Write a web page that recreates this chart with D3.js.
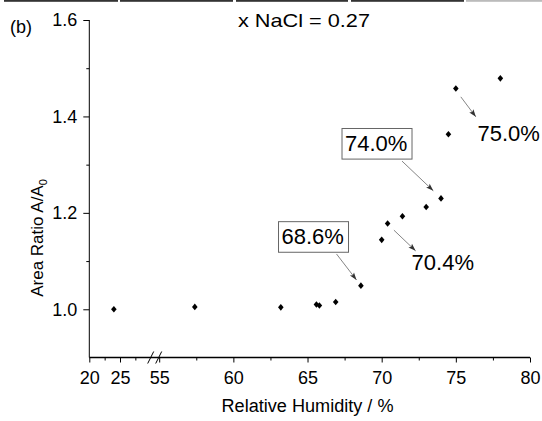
<!DOCTYPE html>
<html><head><meta charset="utf-8">
<script src="https://cdn.jsdelivr.net/npm/d3@7"></script>
<style>
html,body{margin:0;padding:0;background:#fff;}
svg{display:block;font-family:"Liberation Sans",Arial,sans-serif;}
</style></head>
<body><svg id="c" width="542" height="421"></svg>
<script>
// ---- data ----
const rh    = [24.0, 57.4, 63.2, 65.6, 65.8, 66.9, 68.6, 70.0, 70.4, 71.4, 73.0, 74.0, 74.5, 75.0, 78.0];
const ratio = [1.000, 1.005, 1.004, 1.010, 1.008, 1.015, 1.049, 1.144, 1.178, 1.193, 1.212, 1.230, 1.363, 1.458, 1.479];
const yTicks = [1.0, 1.2, 1.4, 1.6];
const yMinor = [1.1, 1.3, 1.5];
const xTicksLeft = [20, 25];
const xMinorLeft = [22.5, 27.5];
const xTicksRight = [55, 60, 65, 70, 75, 80];
const xMinorRight = [57.5, 62.5, 67.5, 72.5, 77.5];
const annLabels = ["68.6%", "70.4%", "74.0%", "75.0%"];
const annRH = [68.6, 70.4, 74.0, 75.0];
const annBoxed = [true, false, true, false];
const title = "x NaCl = 0.27";
const panel = "(b)";
const xTitle = "Relative Humidity / %";

// ---- layout ----
const svg = d3.select("#c");
const y = d3.scaleLinear().domain([0.9, 1.6]).range([357.5, 20]);
const xL = d3.scaleLinear().domain([20, 25]).range([89.3, 120]);
const xR = d3.scaleLinear().domain([55, 80]).range([159.2, 530]);
const x = v => v < 40 ? xL(v) : xR(v);
const x0 = xL(20), y0 = y(0.9);

// top border fragments (page decoration)
const topSegs = [[4,118,"#333"],[120,233,"#333"],[236,348,"#333"],[351,464,"#333"],[466,542,"#bbb"]];
svg.selectAll("rect.top").data(topSegs).enter().append("rect")
  .attr("x", d => d[0]).attr("y", 0).attr("width", d => d[1]-d[0]).attr("height", 1.8)
  .attr("fill", d => d[2]);

// y axis
const gy = svg.append("g").attr("transform", `translate(${x0},0)`);
gy.call(d3.axisLeft(y).tickValues(yTicks).tickFormat(d3.format(".1f")).tickSize(6).tickPadding(6).tickSizeOuter(0));
gy.select(".domain").remove();
gy.append("g").call(d3.axisLeft(y).tickValues(yMinor).tickFormat("").tickSize(3)).select(".domain").remove();
gy.selectAll("text").attr("font-size", 18).attr("fill", "#000").attr("font-family", "Liberation Sans, Arial");
gy.selectAll("line").attr("stroke", "#000");
svg.append("line").attr("x1", x0).attr("x2", x0).attr("y1", y(1.6)).attr("y2", y0).attr("stroke", "#000");

// x axis (broken)
function xAxisPart(scale, major, minor) {
  const g = svg.append("g").attr("transform", `translate(0,${y0})`);
  g.call(d3.axisBottom(scale).tickValues(major).tickFormat(d3.format("d")).tickSize(5).tickPadding(9).tickSizeOuter(0));
  g.select(".domain").remove();
  g.append("g").call(d3.axisBottom(scale).tickValues(minor).tickFormat("").tickSize(3)).select(".domain").remove();
  g.selectAll("text").attr("font-size", 18).attr("fill", "#000").attr("font-family", "Liberation Sans, Arial");
  g.selectAll("line").attr("stroke", "#000");
}
xAxisPart(xL, xTicksLeft, xMinorLeft);
xAxisPart(xR, xTicksRight, xMinorRight);
svg.append("line").attr("x1", x0).attr("x2", xR(80)).attr("y1", y0).attr("y2", y0).attr("stroke", "#000").attr("stroke-width", 1.3);
// break marks
const bx = [xL(30), xL(30) + 8];
svg.selectAll("line.brk").data(bx).enter().append("line")
  .attr("x1", d => d - 3).attr("x2", d => d + 3)
  .attr("y1", y0 + 6).attr("y2", y0 - 6)
  .attr("stroke", "#000").attr("stroke-width", 1);

// axis titles
svg.append("text").attr("x", 307.5).attr("y", 412).attr("text-anchor", "middle")
  .attr("font-size", 18).attr("textLength", 172).attr("lengthAdjust", "spacingAndGlyphs").text(xTitle);
const yt = svg.append("text").attr("transform", "translate(43,238) rotate(-90)")
  .attr("text-anchor", "middle").attr("font-size", 17);
yt.append("tspan").text("Area Ratio A/A");
yt.append("tspan").attr("font-size", 11).attr("dy", 4).text("0");

// title and panel label
svg.append("text").attr("x", 304).attr("y", 27).attr("text-anchor", "middle")
  .attr("font-size", 19).attr("textLength", 132).attr("lengthAdjust", "spacingAndGlyphs").text(title);
svg.append("text").attr("x", 10).attr("y", 33).attr("font-size", 18).text(panel);

// points
const diamond = {draw(ctx) { const w = 2.8, h = 3.3; ctx.moveTo(0,-h); ctx.lineTo(w,0); ctx.lineTo(0,h); ctx.lineTo(-w,0); ctx.closePath(); }};
svg.selectAll("path.pt").data(rh.map((r,i) => [r, ratio[i]])).enter().append("path")
  .attr("d", d3.symbol().type(diamond))
  .attr("transform", d => `translate(${x(d[0])},${y(d[1])})`)
  .attr("fill", "#000");

// annotations: offsets relative to the annotated point (arrow start, arrow end, label pos)
const annLayout = [
  {a0:[-24.4,-31.7], a1:[-4.4,-5.7], t:[-79.4,-41.7], box:[-82.4,-64,70,30.6]},
  {a0:[6.3,6.7],     a1:[28,27.4],   t:[24,46.7]},
  {a0:[-39,-37.3],   a1:[-7.7,-7.6], t:[-96,-47.6],  box:[-99,-69.9,70,30.6]},
  {a0:[5,8.4],       a1:[20,28.4],   t:[21.6,52.7]}
];
const defs = svg.append("defs");
defs.append("marker").attr("id", "ah").attr("viewBox", "-8 -4 9 8").attr("refX", 0).attr("refY", 0)
  .attr("markerWidth", 9).attr("markerHeight", 8).attr("markerUnits", "userSpaceOnUse").attr("orient", "auto")
  .append("path").attr("d", "M0,0L-7.5,-2.6L-6,0L-7.5,2.6Z").attr("fill", "#333");
annLabels.forEach((lab, i) => {
  const idx = rh.indexOf(annRH[i]);
  const px = x(rh[idx]), py = y(ratio[idx]);
  const L = annLayout[i];
  if (annBoxed[i]) {
    svg.append("rect").attr("x", px + L.box[0]).attr("y", py + L.box[1]).attr("width", L.box[2]).attr("height", L.box[3])
      .attr("fill", "#fff").attr("stroke", "#666").attr("stroke-width", 1);
  }
  svg.append("line").attr("x1", px + L.a0[0]).attr("y1", py + L.a0[1]).attr("x2", px + L.a1[0]).attr("y2", py + L.a1[1])
    .attr("stroke", "#666").attr("stroke-width", 0.8).attr("marker-end", "url(#ah)");
  svg.append("text").attr("x", px + L.t[0]).attr("y", py + L.t[1]).attr("font-size", 22).text(lab);
});
</script></body></html>
